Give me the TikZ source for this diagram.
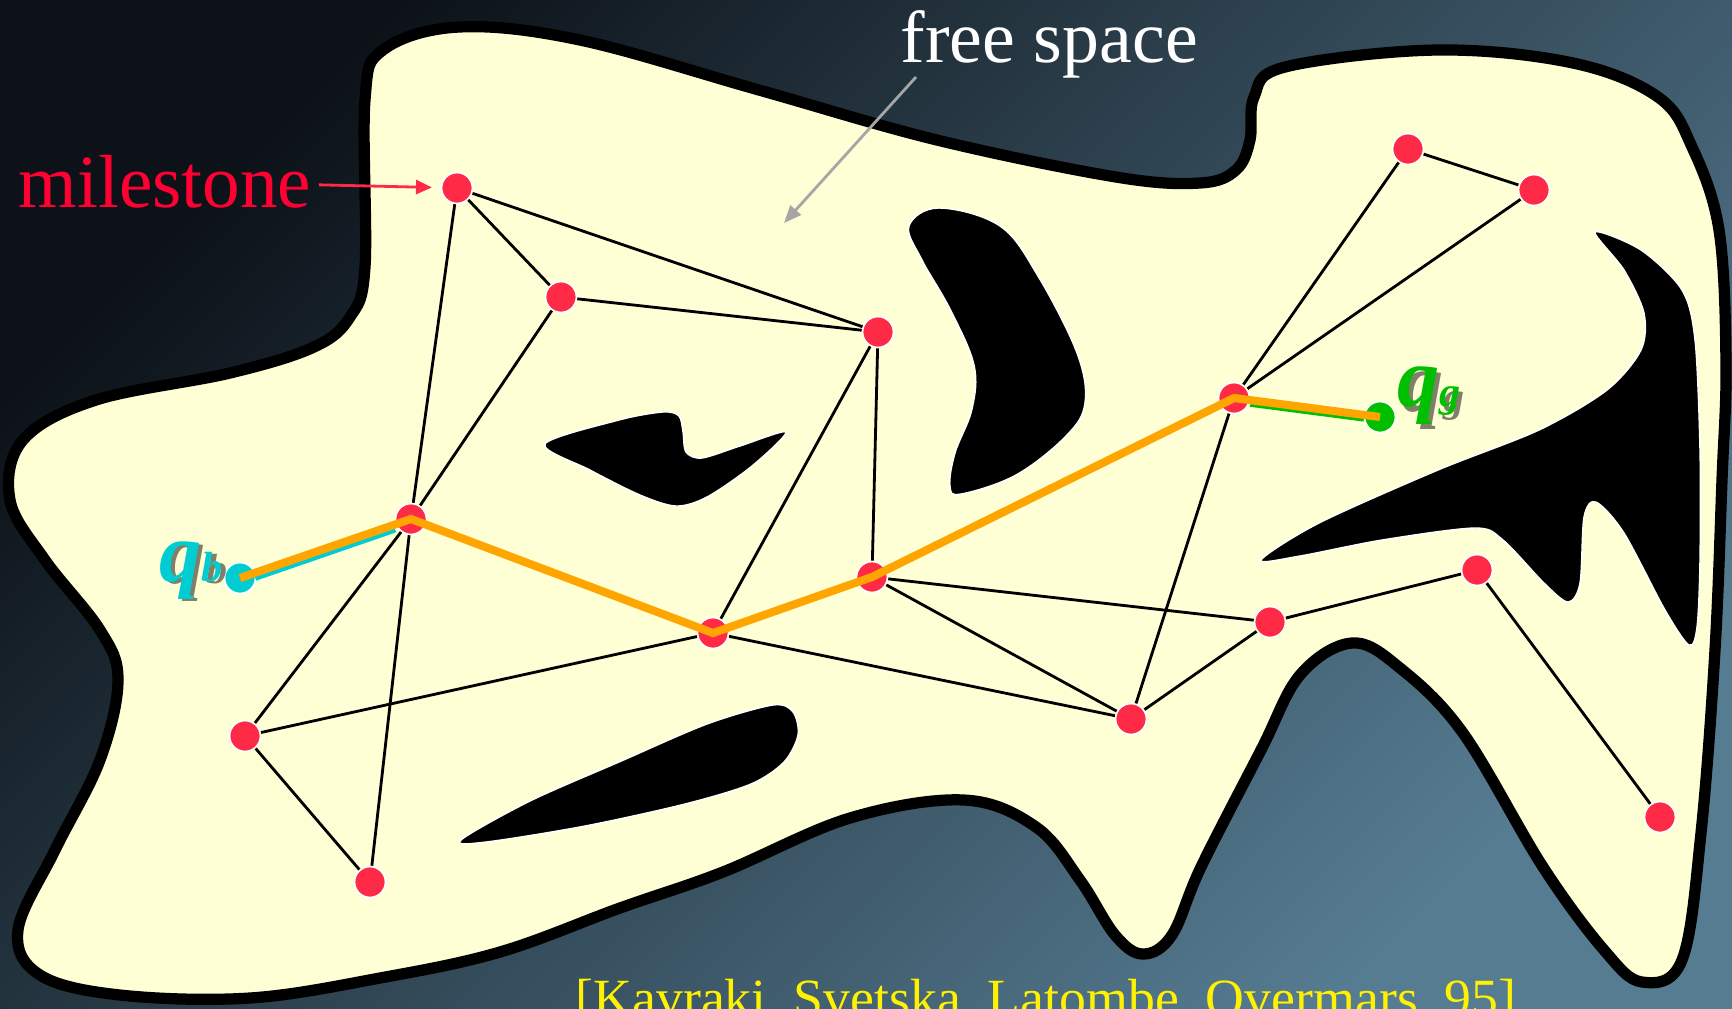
\documentclass[tikz,border=0pt]{standalone}
\usepackage{fontspec}
\setmainfont{Liberation Serif}
\usetikzlibrary{arrows.meta}
\definecolor{bgdark}{RGB}{12,18,24}
\definecolor{bglight}{RGB}{86,124,146}
\definecolor{freecol}{RGB}{255,255,213}
\definecolor{msred}{RGB}{255,42,70}
\definecolor{lblred}{RGB}{255,0,51}
\definecolor{pathorange}{RGB}{255,165,0}
\definecolor{qbcyan}{RGB}{0,204,210}
\definecolor{qggreen}{RGB}{0,190,0}

\begin{document}
\begin{tikzpicture}[x=0.1mm, y=-0.1mm,
    main/.style = {circle, fill=msred, draw=white, line width=0.5pt, minimum size=3.1mm, inner sep=0pt},
    link/.style = {line width=0.8pt},
    obst/.style = {fill=black, draw=white, line width=0.4pt},
    qlbl/.style = {font=\bfseries\itshape, inner sep=0pt}]

    \useasboundingbox (0,0) rectangle (1732,1008);
    \shade[top color=bgdark, bottom color=bglight, shading angle=45] (0,0) rectangle (1732,1008);

    \draw[line width=3.2pt, fill=freecol] plot[smooth cycle, tension=0.6] coordinates {
        (365,100) (365,267) (350,317) (314,347) (230,373) (96,400) (23,440) (10,500)
        (45,560) (100,630) (118,680) (100,760) (55,850) (18,930) (40,975) (120,995)
        (250,998) (380,978) (500,952) (620,908) (723,872) (850,818) (964,800) (1036,827)
        (1080,880) (1115,935) (1143,954) (1172,935) (1201,867) (1261,750) (1300,675)
        (1352,643) (1400,668) (1463,733) (1543,867) (1604,950) (1642,982) (1682,960)
        (1701,833) (1715,650) (1722,480) (1726,363) (1719,230) (1692,147) (1658,97)
        (1573,63) (1437,50) (1285,67) (1254,97) (1250,140) (1236,170) (1200,183)
        (1116,177) (937,140) (759,90) (580,40) (459,27) (383,50)};

    \draw[obst] plot[smooth cycle, tension=0.6] coordinates {
        (909,226) (939,208) (1000,226) (1038,276) (1077,353) (1085,403) (1066,436)
        (1016,475) (961,494) (950,486) (955,453) (972,409) (974,365) (950,309) (922,260)};
    \draw[obst] plot[smooth cycle, tension=0.5] coordinates {
        (545,444) (619,420) (663,412) (679,416) (683,432) (686,452) (702,458) (740,446)
        (786,432) (752,466) (707,497) (676,506) (640,495) (590,470)};
    \draw[obst] plot[smooth cycle, tension=0.5] coordinates {
        (461,840) (530,801) (619,762) (707,724) (773,705) (793,712) (798,735) (784,762)
        (751,784) (685,804) (585,826) (486,842)};
    \draw[obst] plot[smooth cycle, tension=0.5] coordinates {
        (1261,560) (1319,523) (1438,470) (1539,430) (1607,390) (1641,350) (1644,313)
        (1624,270) (1595,232) (1641,250) (1682,290) (1695,340) (1700,450) (1700,560)
        (1697,627) (1689,645) (1665,610) (1624,533) (1596,502) (1584,517) (1580,583)
        (1568,602) (1544,583) (1503,540) (1475,528) (1382,540) (1300,556)};

    \node[main] (1) at (457,188) {};
    \node[main] (2) at (561,297) {};
    \node[main] (3) at (878,332) {};
    \node[main] (4) at (1408,149) {};
    \node[main] (5) at (1534,190) {};
    \node[main] (6) at (1234,398) {};
    \node[main] (7) at (411,519) {};
    \node[main] (8) at (872,577) {};
    \node[main] (9) at (713,633) {};
    \node[main] (10) at (1270,622) {};
    \node[main] (11) at (1477,570) {};
    \node[main] (12) at (245,736) {};
    \node[main] (13) at (1131,719) {};
    \node[main] (14) at (370,882) {};
    \node[main] (15) at (1660,817) {};
    \node[main, fill=qbcyan] (b) at (240,578) {};
    \node[main, fill=qggreen] (g) at (1380,417) {};

    \draw[link] (1) -- (2);
    \draw[link] (1) -- (3);
    \draw[link] (1) -- (7);
    \draw[link] (7) -- (14);
    \draw[link] (2) -- (3);
    \draw[link] (2) -- (7);
    \draw[link] (3) -- (8);
    \draw[link] (3) -- (9);
    \draw[link] (7) -- (12);
    \draw[link] (7) -- (9);
    \draw[link] (8) -- (9);
    \draw[link] (12) -- (9);
    \draw[link] (12) -- (14);
    \draw[link] (9) -- (13);
    \draw[link] (8) -- (13);
    \draw[link] (8) -- (10);
    \draw[link] (8) -- (6);
    \draw[link] (10) -- (13);
    \draw[link] (10) -- (11);
    \draw[link] (11) -- (15);
    \draw[link] (6) -- (13);
    \draw[link] (6) -- (4);
    \draw[link] (6) -- (5);
    \draw[link] (4) -- (5);

    \draw[qbcyan, line width=1.2pt, transform canvas={yshift=-1.7pt}] (b) -- (7);
    \draw[qggreen, line width=1pt, transform canvas={yshift=-1.4pt}] (6) -- (g);
    \draw[pathorange, line width=2.3pt] (b.center) -- (7.center) -- (9.center) -- (8.center) -- (6.center) -- (g.center);

    \node[font=\fontsize{21.4}{21.4}\selectfont, text=lblred, anchor=base west, inner sep=2pt] (lm) at (11,207) {milestone};
    \draw[-{Triangle[length=4.5pt,width=4pt]}, msred, line width=0.8pt, shorten >=2.5pt] (lm) -- (1);

    \node[font=\fontsize{21}{21}\selectfont, text=white, anchor=base west, inner sep=0pt] (fs) at (900,62) {free space};
    \coordinate (fstip) at (784,223);
    \draw[-{Triangle[length=5pt,width=4pt]}, gray!70, line width=0.8pt] ([xshift=1.6mm, yshift=-1.5mm]fs.base west) -- (fstip);

    \node[qlbl, text=black, opacity=0.5, anchor=base east] (bs) at ([xshift=1.2pt, yshift=-1.6pt]b.west) {{\fontsize{24}{24}\selectfont q}{\fontsize{12}{12}\selectfont b}};
    \node[qlbl, text=qbcyan, anchor=base east] (bl) at ([yshift=-0.3mm]b.west) {{\fontsize{24}{24}\selectfont q}{\fontsize{12}{12}\selectfont b}};
    \node[qlbl, text=black, opacity=0.5, anchor=base west] (gs) at ([xshift=1.2pt, yshift=1.5pt]g.east) {{\fontsize{24}{24}\selectfont q}{\fontsize{12}{12}\selectfont g}};
    \node[qlbl, text=qggreen, anchor=base west] (gl) at ([yshift=1.1mm]g.east) {{\fontsize{24}{24}\selectfont q}{\fontsize{12}{12}\selectfont g}};

    \node[font=\fontsize{15.3}{15.3}\selectfont, text=yellow, anchor=base west, inner sep=0pt] (cite) at (575,1016) {[Kavraki, Svetska, Latombe, Overmars, 95]};

\end{tikzpicture}
\end{document}
